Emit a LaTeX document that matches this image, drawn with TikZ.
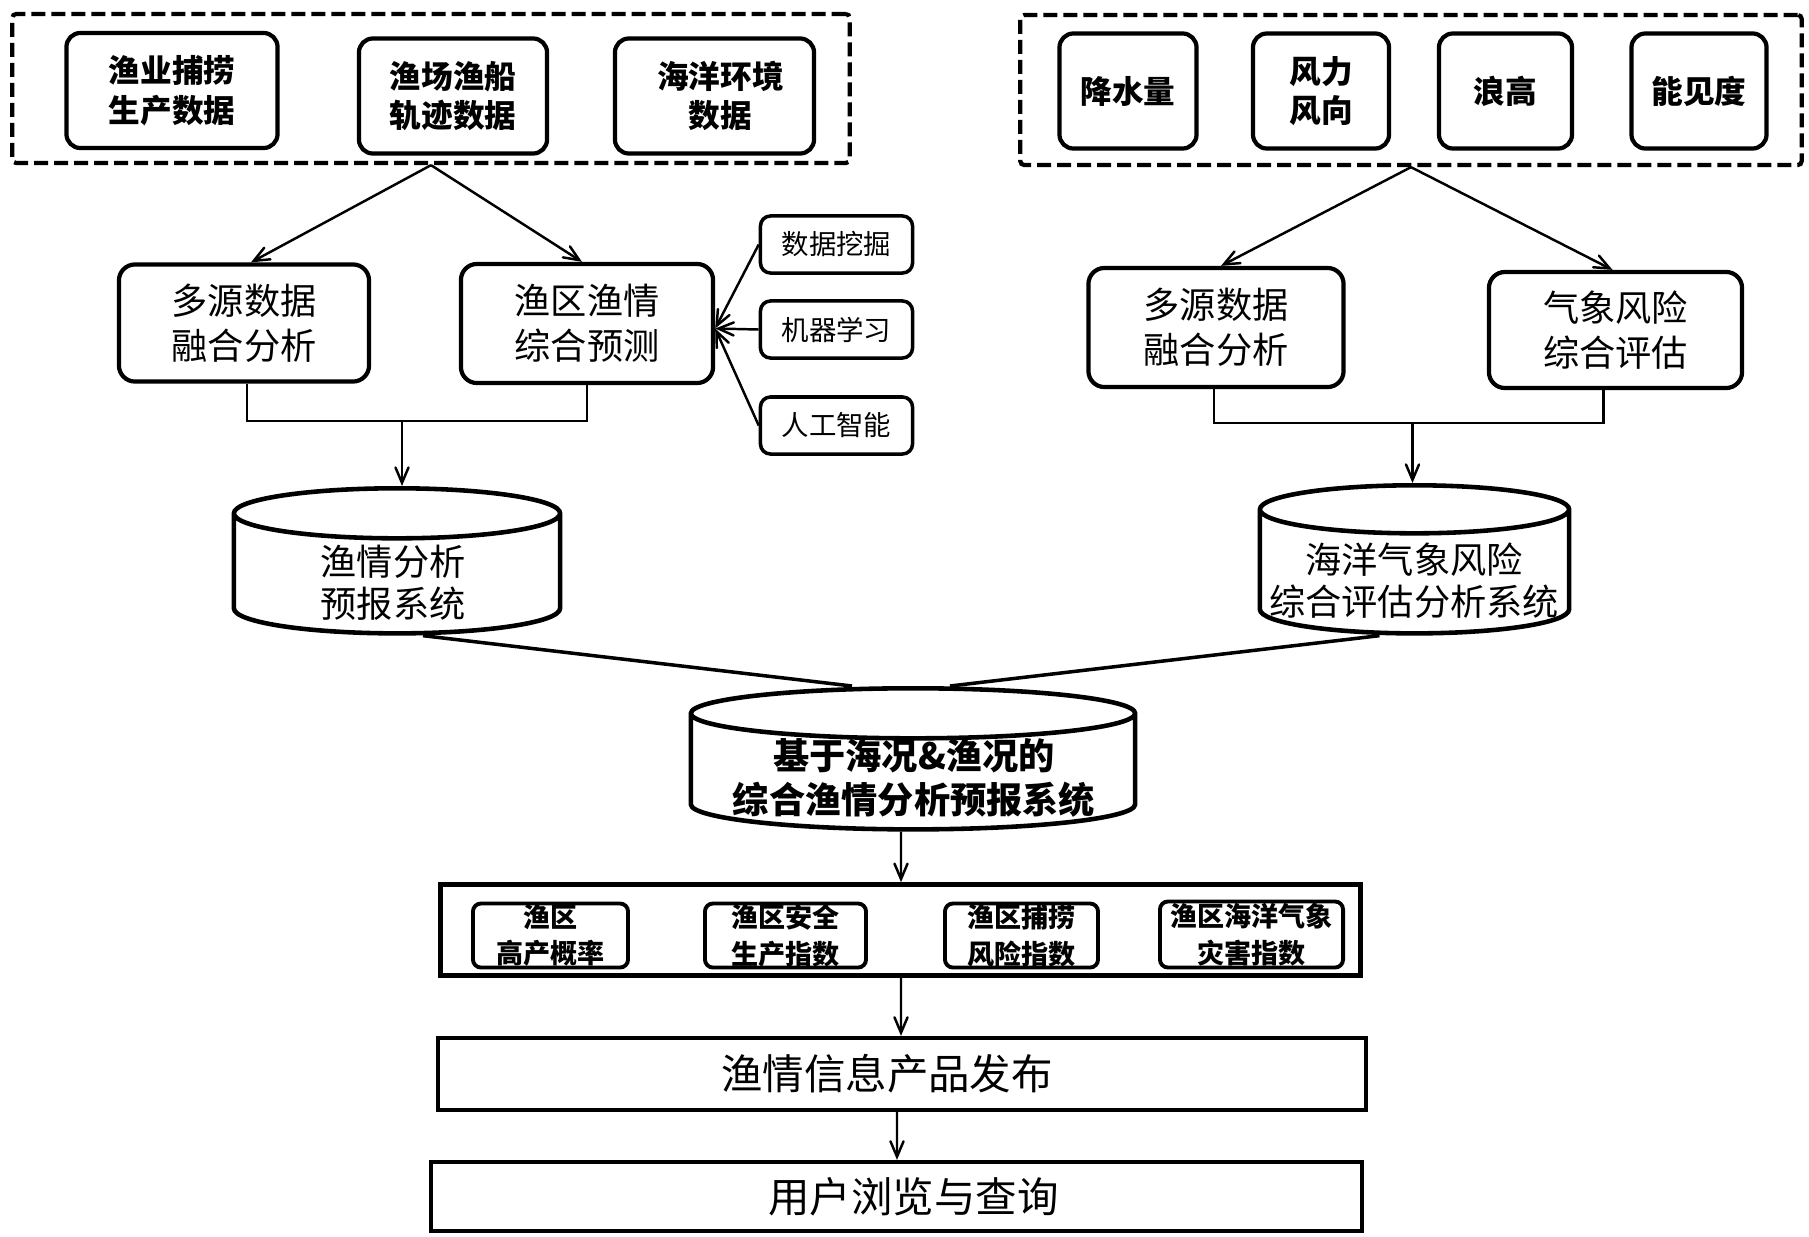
\documentclass[tikz,border=0pt]{standalone}
\usepackage{fontspec}
\setmainfont{Noto Sans CJK SC}
\usetikzlibrary{arrows}
\usetikzlibrary{shapes.geometric, calc}

\begin{document}
\begin{tikzpicture}[x=0.01cm, y=-0.01cm, >=angle 45,
    sz/.style 2 args={minimum width=#1cm, minimum height=#2cm},
    line/.style={draw=black, line width=0.7pt},
    outerbox/.style={draw=black, line width=1.2pt, dash pattern=on 0.14cm off 0.06cm, rounded corners=0.04cm, inner sep=0pt},
    srcbox/.style={draw=black, line width=1.2pt, rounded corners=0.14cm, inner sep=0pt, align=center, font=\fontsize{9pt}{11.2pt}\selectfont\bfseries},
    midbox/.style={draw=black, line width=1.2pt, rounded corners=0.16cm, inner sep=0pt, align=center, font=\fontsize{10.3pt}{12.8pt}\selectfont},
    toolbox/.style={draw=black, line width=1pt, rounded corners=0.1cm, inner sep=0pt, align=center, sz={1.52}{0.57}, font=\fontsize{7.8pt}{9pt}\selectfont},
    idxbox/.style={draw=black, line width=1.1pt, rounded corners=0.08cm, inner sep=0pt, align=center, font=\fontsize{7.7pt}{10.4pt}\selectfont\bfseries},
    bigbox/.style={draw=black, line width=1.2pt, inner sep=0pt, font=\fontsize{11.8pt}{14pt}\selectfont},
    store/.style={cylinder, shape border rotate=90, draw=black, line width=1.3pt, inner sep=0pt, anchor=north},
    storetext/.style={align=center, inner sep=0pt, font=\fontsize{10.3pt}{12pt}\selectfont}]

  \useasboundingbox (0, 0) rectangle (1809, 1236);

  % left sources
  \node[outerbox, sz={8.37}{1.49}] (srcl) at (431, 88.5) {};
  \node[srcbox, sz={2.11}{1.15}] (prod) at (172, 90.5) {渔业捕捞\\生产数据};
  \node[srcbox, sz={1.88}{1.15}] (track) at (453, 96) {渔场渔船\\轨迹数据};
  \node[srcbox, sz={1.99}{1.15}] (envi) at (714.5, 96) {\hspace*{0.12cm}海洋环境\\\hspace*{0.12cm}数据};

  % right sources
  \node[outerbox, sz={7.81}{1.50}] (srcr) at (1411, 90) {};
  \node[srcbox, sz={1.37}{1.15}] (rain) at (1128, 91) {降水量};
  \node[srcbox, sz={1.36}{1.15}] (wind) at (1321, 91) {风力\\风向};
  \node[srcbox, sz={1.33}{1.15}] (wave) at (1505.5, 91) {浪高};
  \node[srcbox, sz={1.35}{1.15}] (vis) at (1699, 91) {能见度};

  \node[midbox, sz={2.50}{1.17}] (fusl) at (244, 323) {多源数据\\融合分析};
  \node[midbox, sz={2.52}{1.19}] (fish) at (587, 323.5) {渔区渔情\\综合预测};
  \node[midbox, sz={2.55}{1.19}] (fusr) at (1216, 327.5) {多源数据\\融合分析};
  \node[midbox, sz={2.53}{1.16}] (risk) at (1615.5, 330) {气象风险\\综合评估};

  \node[toolbox] (mine) at (836.5, 244.5) {数据挖掘};
  \node[toolbox] (mach) at (836.5, 329.5) {机器学习};
  \node[toolbox] (arti) at (836.5, 425.5) {人工智能};

  \node[store, sz={3.26}{1.45}, aspect=0.25] (cylf) at (397, 486) {\hspace*{2cm}};
  \node[storetext] (txtf) at (393, 583) {渔情分析\\预报系统};
  \node[store, sz={3.09}{1.48}, aspect=0.24] (cylm) at (1414.5, 483) {\hspace*{2cm}};
  \node[storetext] (txtm) at (1414, 581) {海洋气象风险\\综合评估分析系统};
  \node[store, sz={4.44}{1.41}, aspect=0.25] (cylc) at (913, 686) {\hspace*{2cm}};
  \node[storetext, font=\fontsize{10.3pt}{12.4pt}\selectfont\bfseries] (txtc) at (914, 778) {基于海况\&渔况的\\综合渔情分析预报系统};

  % index row
  \node[draw=black, line width=1.3pt, inner sep=0pt, sz={9.20}{0.91}] (row) at (900.5, 930) {};
  \node[idxbox, sz={1.55}{0.64}] (idxa) at (550.5, 935.5) {渔区\\高产概率};
  \node[idxbox, sz={1.61}{0.64}] (idxb) at (785.5, 935.5) {渔区安全\\生产指数};
  \node[idxbox, sz={1.53}{0.64}] (idxc) at (1021.5, 935.5) {渔区捕捞\\风险指数};
  \node[idxbox, sz={1.83}{0.66}] (idxd) at (1251.5, 934.5) {渔区海洋气象\\灾害指数};

  \node[bigbox, sz={9.28}{0.72}] (publ) at (902, 1074) {\hspace*{-0.3cm}渔情信息产品发布};
  \node[bigbox, sz={9.30}{0.69}] (user) at (896.5, 1196.5) {\hspace*{0.34cm}用户浏览与查询};

  \draw[line, ->] (srcl.south) -- ([xshift=0.07cm]fusl.north);
  \draw[line, ->] (srcl.south) -- ([xshift=-0.05cm]fish.north);
  \draw[line, ->] (srcr.south) -- ([xshift=0.05cm]fusr.north);
  \draw[line, ->] (srcr.south) -- ([xshift=-0.03cm]risk.north);

  \draw[line, ->] (mine.west) -- ([yshift=-0.05cm]fish.east);
  \draw[line, ->] (mach.west) -- ([yshift=-0.05cm]fish.east);
  \draw[line, ->] (arti.west) -- ([yshift=-0.05cm]fish.east);

  % brackets
  \coordinate (brl) at (402, 421);
  \coordinate (brr) at (1412.5, 423);
  \draw[line] ([xshift=0.03cm]fusl.south) |- (brl) -| (fish.south);
  \draw[line] ([xshift=-0.02cm]fusr.south) |- (brr) -| ([xshift=-0.12cm]risk.south);
  \draw[line, ->] (brl) -- (brl |- cylf.north);
  \draw[line, ->] (brr) -- (brr |- cylm.north);

  \draw[line, line width=1pt] ([xshift=0.26cm]cylf.south) -- ([xshift=-0.61cm]cylc.north);
  \draw[line, line width=1pt] ([xshift=-0.35cm]cylm.south) -- ([xshift=0.37cm]cylc.north);

  \draw[line, ->] ([xshift=-0.12cm]cylc.south) -- ([xshift=0.005cm]row.north);
  \draw[line, ->] ([xshift=0.005cm]row.south) -- ([xshift=-0.01cm]publ.north);
  \draw[line, ->] ([xshift=-0.05cm]publ.south) -- ([xshift=0.005cm]user.north);
\end{tikzpicture}
\end{document}
